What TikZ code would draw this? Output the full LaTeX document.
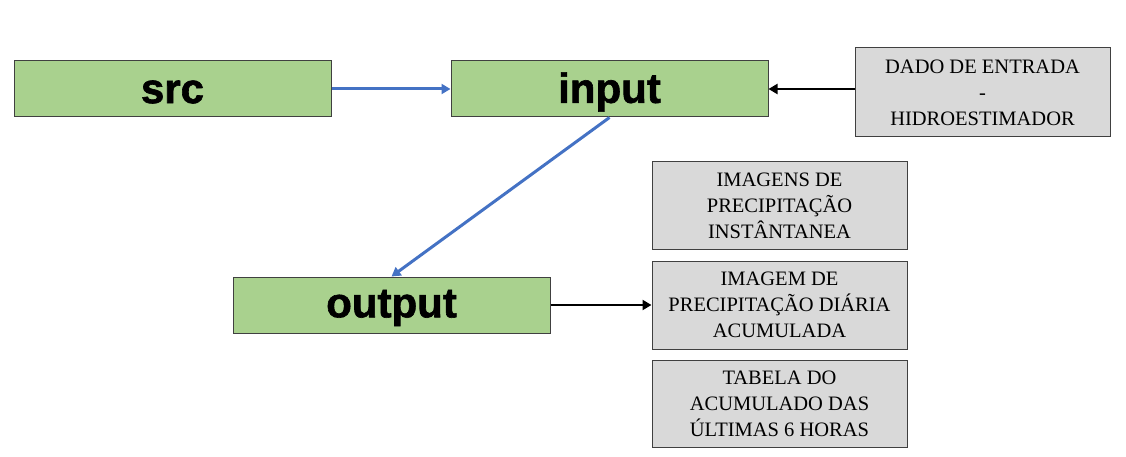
\documentclass[tikz,border=0pt]{standalone}
\usepackage{fontspec}
\setmainfont{Liberation Serif}
\newfontfamily\boxsans[BoldFeatures={FakeBold=1.5}]{Liberation Sans}
\usetikzlibrary{arrows.meta}
\definecolor{grn}{HTML}{A9D18E}
\definecolor{gry}{HTML}{D9D9D9}
\definecolor{edge}{HTML}{404040}
\definecolor{blu}{HTML}{4472C4}
\tikzset{
  greenbox/.style={draw=edge, line width=1pt, fill=grn, minimum width=317pt, minimum height=56pt, inner sep=0pt},
  greenlabel/.style={font=\boxsans\fontsize{42}{44}\selectfont\bfseries, inner sep=0pt},
  graybox/.style={draw=edge, line width=1pt, fill=gry, minimum width=255pt, minimum height=88pt, inner sep=0pt, align=center, font=\fontsize{20.5}{26}\selectfont},
  bluearrow/.style={draw=blu, line width=3pt, -{Triangle[length=9pt,width=10pt]}},
  blackarrow/.style={draw=black, line width=2.8pt, -{Triangle[length=9pt,width=10pt]}}
}
\begin{document}
\begin{tikzpicture}[x=1pt,y=-1pt]
\useasboundingbox (0,0) rectangle (1126,457);
\node[greenbox] (src) at (172.5,89) {};
\node[greenbox] (input) at (609.5,89) {};
\node[greenbox] (output) at (391.5,305) {};
\node[greenlabel] (srct) at (172.5,92) {src};
\node[greenlabel] (inputt) at (609.5,92) {input};
\node[greenlabel] (outputt) at (391.5,308) {output};
\node[graybox, minimum height=89pt] (dado) at (982.5,92.5) {DADO DE ENTRADA\\-\\HIDROESTIMADOR};
\node[graybox, minimum height=87pt] (inst) at (779.5,205.5) {IMAGENS DE\\PRECIPITAÇÃO\\INSTÂNTANEA};
\node[graybox, minimum height=88pt] (diaria) at (779.5,305) {IMAGEM DE\\PRECIPITAÇÃO DIÁRIA\\ACUMULADA};
\node[graybox, minimum height=87pt] (tabela) at (779.5,403.5) {TABELA DO\\ACUMULADO DAS\\ÚLTIMAS 6 HORAS};
\draw[bluearrow] (src.east) -- (input.west);
\draw[bluearrow] (input.south) -- (output.north);
\draw[blackarrow] (dado.west |- input.east) -- (input.east);
\draw[blackarrow] (output.east) -- (diaria.west);
\end{tikzpicture}
\end{document}
